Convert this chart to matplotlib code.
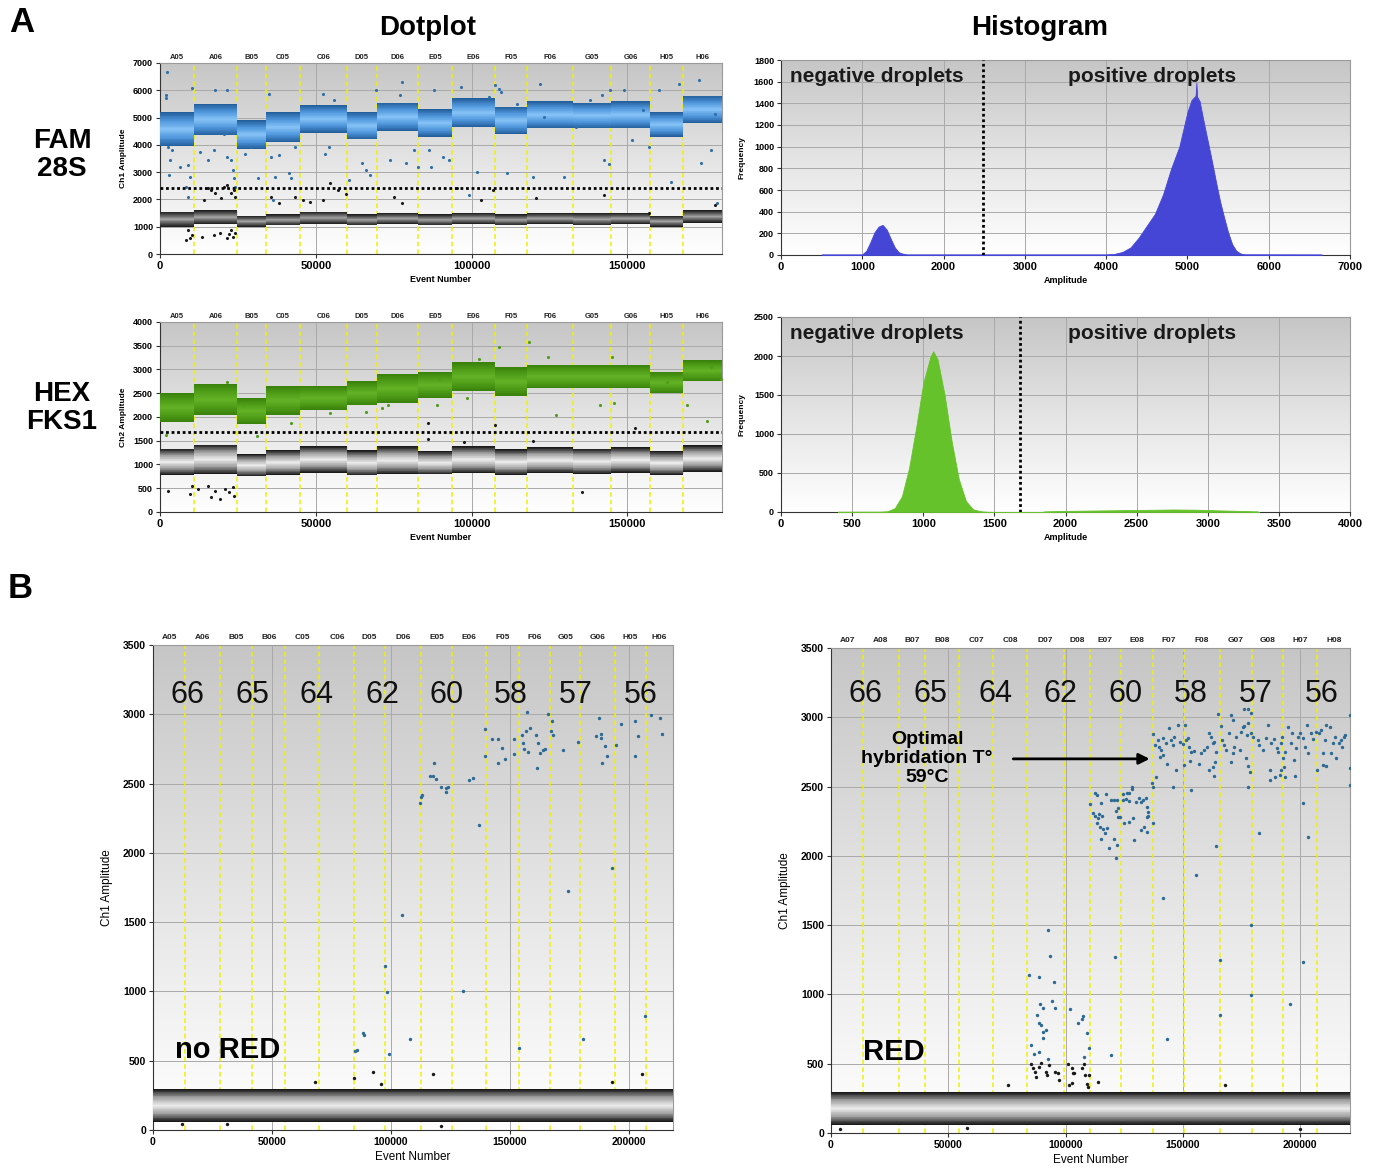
import numpy as np
import matplotlib
matplotlib.use('Agg')
import matplotlib.pyplot as plt
from matplotlib.colors import LinearSegmentedColormap
from matplotlib.transforms import blended_transform_factory

plt.rcParams['font.family'] = ['Liberation Sans', 'DejaVu Sans']

# ---------------- data: panel A, dotplots ----------------
TOP_WELLS = ['A05', 'A06', 'B05', 'C05', 'C06', 'D05', 'D06', 'E05',
             'E06', 'F05', 'F06', 'G05', 'G06', 'H05', 'H06']
TOP_EDGES = [0, 11069, 24682, 34097, 44911, 59924, 69593, 82952, 93766,
             107506, 117684, 132570, 144784, 157379, 167939, 180400]

# FAM (Ch1) cluster limits per well
FAM_POS_LO = [3950, 4350, 3850, 4100, 4450, 4200, 4500, 4300, 4650, 4400, 4600, 4600, 4600, 4300, 4800]
FAM_POS_HI = [5200, 5500, 4900, 5200, 5450, 5200, 5550, 5300, 5700, 5400, 5600, 5550, 5600, 5200, 5800]
FAM_NEG_LO = [1000, 1100, 1000, 1050, 1100, 1050, 1100, 1050, 1100, 1050, 1100, 1050, 1100, 1000, 1150]
FAM_NEG_HI = [1550, 1600, 1400, 1450, 1550, 1450, 1500, 1450, 1500, 1450, 1500, 1500, 1500, 1400, 1600]
FAM_THRESHOLD = 2430
FAM_RAIN_X = [2300, 1900, 1900, 10200, 2500, 3200, 3800, 6400, 2800, 8900, 9500, 8300, 8900, 12700,
              15300, 17200, 17800, 20400, 21600, 21600, 22900, 23500, 23900, 24200, 29300, 27300,
              31500, 35000, 35600, 36900, 36300, 38200, 41300, 42200, 43200, 52900, 52200, 54100,
              55900, 60800, 64900, 66200, 67400, 69300, 73800, 77600, 77000, 78900, 81400, 82700,
              86200, 87100, 87800, 90900, 92800, 96700, 99200, 101800, 105600, 107500, 108800,
              109400, 111300, 114500, 119600, 121900, 123400, 129700, 133600, 138000, 141800,
              142500, 144000, 144400, 148800, 151400, 155200, 157100, 160300, 164100, 166600,
              172900, 173500, 176800, 178700, 178100]
FAM_RAIN_Y = [6659, 5841, 5719, 6085, 3927, 3439, 3805, 3195, 2890, 3256, 2829, 2463, 2098, 3744,
              3439, 3805, 6000, 4415, 6000, 3561, 3439, 3073, 2768, 2463, 3927, 3683,
              2793, 5878, 3561, 2829, 1976, 3646, 2951, 2768, 3927, 3658, 5878, 3927,
              5634, 2707, 3317, 3073, 2890, 6024, 3439, 6305, 5817, 3317, 3805, 3195,
              3805, 3195, 6000, 3561, 3439, 6122, 2159, 3012, 5756, 6183, 6061,
              5939, 2951, 5512, 2829, 6220, 5024, 2829, 4659, 5634, 5817,
              3439, 3293, 6024, 6000, 4171, 5268, 3927, 6000, 2646, 6244,
              6390, 3317, 3805, 1854, 5146]
FAM_LOW_X = [16500, 17800, 19700, 20400, 21600, 22900, 23900, 24200, 15300, 14000, 8900, 10200,
             13400, 17200, 19100, 21400, 22300, 22900, 23500, 24200, 8300, 9500, 35600, 38200,
             43200, 45800, 48300, 52200, 54700, 57200, 59800, 75000, 77600, 95400, 103000,
             106800, 120800, 142500, 157100, 178100]
FAM_LOW_Y = [2341, 2220, 2037, 2463, 2524, 2220, 2341, 2098, 2402, 1976, 878, 695,
             634, 695, 780, 573, 732, 878, 634, 756, 500, 573, 2098, 1854,
             2098, 1976, 1915, 1976, 2585, 2341, 2195, 2098, 1854, 2402, 1976,
             2341, 2037, 2146, 1488, 1793]

# HEX (Ch2) cluster limits per well
HEX_POS_LO = [1900, 2050, 1850, 2050, 2150, 2250, 2300, 2400, 2550, 2450, 2600, 2600, 2600, 2500, 2750]
HEX_POS_HI = [2500, 2700, 2400, 2650, 2650, 2750, 2900, 2950, 3150, 3050, 3100, 3100, 3100, 2950, 3200]
HEX_NEG_LO = [780, 800, 750, 780, 830, 770, 800, 790, 820, 780, 820, 800, 830, 780, 850]
HEX_NEG_HI = [1330, 1420, 1220, 1300, 1380, 1300, 1380, 1280, 1380, 1320, 1360, 1330, 1360, 1280, 1400]
HEX_THRESHOLD = 1690
HEX_RAIN_X = [1900, 21600, 26700, 31200, 42000, 54700, 66100, 71200, 73100, 89000, 89700, 98600,
              102400, 108800, 118300, 124700, 127200, 141200, 145000, 145600, 162800, 169200,
              175500, 176800, 180000]
HEX_RAIN_Y = [1629, 2738, 2253, 1594, 1872, 2080, 2114, 2184, 2253, 2253, 2807, 2392,
              3223, 3466, 3570, 3258, 2045, 2253, 3258, 2288, 2738, 2253,
              1906, 3050, 2807]
HEX_LOW_X = [2500, 9500, 10200, 12100, 15300, 16500, 17800, 19100, 21000, 22300, 23500, 23900,
             85900, 85900, 107500, 135500, 152600, 119600, 97700]
HEX_LOW_Y = [451, 380, 555, 485, 555, 312, 451, 277, 485, 416, 520, 347,
             1872, 1539, 1837, 416, 1768, 1490, 1470]

# ---------------- data: panel A, histograms ----------------
FAM_HIST_AMP = [500, 1000, 1050, 1100, 1150, 1200, 1250, 1300, 1350, 1400, 1450, 1500, 1550,
                4000, 4100, 4200, 4300, 4400, 4500, 4600, 4700, 4800, 4900, 5000, 5050, 5100,
                5110, 5120, 5150, 5200, 5250, 5300, 5350, 5400, 5450, 5500, 5550, 5600, 5650,
                5700, 6650]
FAM_HIST_FREQ = [6, 6, 40, 120, 210, 262, 278, 235, 150, 70, 25, 12, 6,
                 6, 10, 28, 70, 160, 270, 380, 560, 800, 1000, 1320, 1430, 1470,
                 1590, 1460, 1420, 1230, 1050, 870, 680, 500, 350, 210, 100, 40, 15,
                 7, 6]
HEX_HIST_AMP = [400, 700, 750, 800, 850, 900, 950, 1000, 1050, 1070, 1100, 1150, 1200, 1250,
                1300, 1350, 1400, 1450, 1500, 1840, 1850, 2000, 2250, 2500, 2750, 2900,
                3100, 3350, 3360]
HEX_HIST_FREQ = [4, 5, 10, 50, 200, 560, 1080, 1650, 1990, 2060, 1960, 1500, 900, 420,
                 140, 35, 10, 3, 0, 0, 8, 14, 20, 26, 32, 30,
                 20, 8, 0]
FAM_HIST_CUT = 2480
HEX_HIST_CUT = 1677

# ---------------- data: panel B ----------------
BL_WELLS = ['A05', 'A06', 'B05', 'B06', 'C05', 'C06', 'D05', 'D06',
            'E05', 'E06', 'F05', 'F06', 'G05', 'G06', 'H05', 'H06']
BL_EDGES = [0, 13487, 28277, 41765, 55588, 69916, 84664, 97395, 112815, 125504,
            140126, 153824, 166849, 179538, 194160, 207059, 218500]
BR_WELLS = ['A07', 'A08', 'B07', 'B08', 'C07', 'C08', 'D07', 'D08',
            'E07', 'E08', 'F07', 'F08', 'G07', 'G08', 'H07', 'H08']
BR_EDGES = [0, 13692, 28850, 40260, 54440, 69110, 83455, 99430, 110350, 123390,
            137245, 150285, 165770, 179300, 192665, 207335, 221190]
TEMPS = ['66', '65', '64', '62', '60', '58', '57', '56']
NEG_LO = 60
NEG_HI = 295

BL_POS_X = [84900, 85700, 88100, 88500, 97500, 98200, 99000, 104500, 107900,
            112200, 112500, 112900, 116400, 117500, 118100, 118800, 121000, 123000, 124100,
            123000, 130100, 132800, 134300, 136900,
            139500, 139600, 142400, 145000, 144800, 146500, 147900, 151600, 151600, 153800,
            155100, 155600, 155900, 156600, 157200, 157600, 158400,
            160800, 161200, 161800, 162500, 163900, 164700, 166100, 167400, 167700, 168000,
            172300, 174500, 178700,
            180700, 186100, 187400, 188100, 188100, 188800, 189800, 190800, 192900, 194400,
            196500, 202400, 202400, 203700, 206700, 209300, 212900, 213900]
BL_POS_Y = [570, 577, 697, 685, 1183, 998, 548, 1551, 659,
            2359, 2405, 2417, 2554, 2554, 2648, 2532, 2477, 2470, 2475,
            2437, 1003, 2527, 2542, 2200,
            2891, 2700, 2819, 2819, 2650, 2754, 2674, 2823, 2710, 592,
            2848, 2790, 2751, 2881, 3018, 2727, 2900,
            2848, 2610, 2795, 2718, 2744, 2749, 3001, 2881, 2953, 2848,
            2741, 1724, 2803,
            659, 2845, 2975, 2855, 2831, 2648, 2768, 2700, 1888, 2776,
            2929, 2949, 2696, 2845, 823, 2992, 2975, 2860]
BL_LOW_X = [84500, 92600, 117800, 205300, 68000, 96000, 193000, 12000, 31000, 121000]
BL_LOW_Y = [373, 421, 406, 402, 350, 335, 345, 40, 45, 30]

BR_POS_X = [112500, 113200, 110400, 115000, 117200, 111800, 112700, 113800, 114400, 115700,
            113500, 114800, 116100, 116800, 117500, 115000, 118400, 121700, 120400, 121400,
            119200, 120400, 121800, 122500, 121400, 122400, 123300, 124400, 126100, 126900,
            124400, 125700, 127000, 128100, 128200, 124900, 127200, 128500, 129200, 129900,
            131300, 132100, 133000, 134200, 134500, 134900, 134500, 134900, 132100, 133500,
            134500, 137300,
            136700, 137100, 138600, 137100, 138100, 139200, 139900, 140600, 141300, 140300,
            141600, 142700, 143900, 144900, 145600, 146300, 143100, 147000, 145900, 148000,
            150900, 148800, 149900, 151300, 152300, 152700, 153400, 154600, 150600, 153100,
            153400, 141700, 156700, 157700, 159100, 160200, 161200, 161900, 162900, 163400,
            164100, 161200, 162700, 163400, 163800, 165100, 166200, 164100, 155500, 166600,
            167700, 168400, 169800, 170500, 171200, 171900, 172700, 170500, 171200, 174100,
            174800, 175500, 176200, 177200, 177900, 178800, 179800, 176200, 177900, 178800,
            176900, 177900, 178400, 177600, 182600, 181900, 182600, 184100, 185500, 186200,
            186900, 187600, 189000, 190200, 190700, 191600, 192200, 187300, 189300, 191200,
            191900, 193000, 193300, 192600, 193600, 194700, 195900, 196400, 197300, 198300,
            199000, 200000, 201100, 202100, 203000, 203500, 204700, 205600, 206800, 207300,
            207800, 208700, 209700, 210400, 211100, 212500, 213200, 214000, 214700, 215400,
            216400, 217200, 217800, 218700, 219200, 221100, 221100, 221100, 209700, 211100,
            201100, 203300, 197600,
            92300, 93300, 84200, 88600, 95000, 88900, 90200, 94200, 95400, 87600,
            88600, 89400, 90500, 91700, 90500, 85300, 86600, 88600, 92600, 101700,
            105400, 107000, 107600, 109300, 110100, 107700, 121100, 119200, 143000, 165900,
            165900, 179000, 179000, 201100, 195600]
BR_POS_Y = [2451, 2439, 2374, 2379, 2446, 2311, 2287, 2275, 2300, 2287,
            2235, 2210, 2191, 2163, 2201, 2121, 2054, 2078, 2121, 1982,
            2403, 2403, 2403, 2343, 2326, 2279, 2283, 2446, 2451, 2451,
            2403, 2413, 2399, 2499, 2485, 2239, 2247, 2271, 2114, 2391,
            2415, 2391, 2403, 2415, 2350, 2319, 2278, 2287, 2186, 2210,
            2170, 2239,
            2523, 2499, 2571, 2877, 2800, 2836, 2788, 2764, 2728, 2716,
            2848, 2812, 2925, 2836, 2800, 2860, 2662, 2619, 2499, 2944,
            2944, 2824, 2807, 2836, 2852, 2788, 2752, 2759, 2655, 2684,
            2475, 1694, 2662, 2740, 2764, 2783, 2884, 2860, 2812, 2824,
            2752, 2619, 2643, 2576, 2679, 3021, 2937, 2071, 1860, 2836,
            2800, 2764, 2884, 2679, 2740, 2788, 2860, 3016, 2980, 2764,
            2896, 2932, 2937, 2872, 2956, 2884, 2860, 3057, 3057, 3028,
            2704, 2648, 2607, 2494, 2167, 2836, 2800, 2764, 2848, 2944,
            2619, 2812, 2841, 2776, 2752, 2812, 2860, 2547, 2571, 2583,
            2619, 2643, 2567, 2704, 2752, 2932, 2812, 2884, 2692, 2776,
            2860, 2884, 2848, 2788, 2944, 2740, 2884, 2841, 2896, 2619,
            2884, 2908, 2740, 2836, 2944, 2932, 2740, 2812, 2860, 2704,
            2812, 2836, 2783, 2860, 2872, 3016, 2632, 2511, 2655, 2648,
            2379, 2138, 2576,
            1463, 1277, 1140, 1123, 1092, 933, 900, 950, 900, 854,
            796, 779, 727, 743, 685, 633, 568, 584, 532, 895,
            791, 820, 846, 719, 611, 546, 1272, 563, 676, 1248,
            851, 1501, 996, 1236, 929]
BR_LOW_X = [85300, 85900, 87000, 88600, 89600, 91700, 92900, 91900, 95400, 96700, 97100, 87200,
            101200, 102600, 103000, 103600, 107100, 108000, 108100, 110100, 109000, 109500,
            101400, 102900, 114000, 75300, 168100, 4000, 58000, 200000]
BR_LOW_Y = [498, 467, 442, 474, 503, 442, 491, 419, 442, 431, 383, 407,
            498, 467, 435, 431, 467, 498, 421, 421, 351, 330,
            344, 359, 368, 349, 346, 30, 35, 30]

# ---------------- styling helpers ----------------
bg_cmap = LinearSegmentedColormap.from_list('bg', ['#c6c6c6', '#e4e4e4', '#ffffff'])
fam_pos_cmap = LinearSegmentedColormap.from_list('fp', ['#86c2f6', '#4f97dd', '#245f9c'])
fam_neg_cmap = LinearSegmentedColormap.from_list('fn', ['#a4a4a4', '#5c5c5c', '#1e1e1e'])
hex_pos_cmap = LinearSegmentedColormap.from_list('hp', ['#63b226', '#4f9c18', '#3a820c'])
neg_cmap = LinearSegmentedColormap.from_list('nn', ['#eeeeee', '#a0a0a0', '#1a1a1a'])
N_STRIPS = 40
strip_shade = np.abs(np.linspace(-1, 1, N_STRIPS))[:, None]

YELLOW = '#f2f000'
GRIDC = '#a9a9a9'


def base(ax):
    ax.imshow(np.linspace(0, 1, 256)[:, None], extent=[0, 1, 0, 1], transform=ax.transAxes,
              cmap=bg_cmap, aspect='auto', zorder=0)
    ax.set_axisbelow(True)
    ax.grid(True, color=GRIDC, lw=0.7)
    for s in ax.spines.values():
        s.set_color('#9a9a9a')
        s.set_linewidth(0.8)
    ax.spines['left'].set_color('#333333')
    ax.spines['bottom'].set_color('#333333')
    ax.tick_params(length=3, width=0.8, color='#333333', pad=2)


def band(ax, x0, x1, lo, hi, cmap):
    ys = np.linspace(lo, hi, N_STRIPS + 1)
    ax.pcolormesh([x0, x1], ys, strip_shade, cmap=cmap, vmin=0, vmax=1,
                  shading='flat', zorder=3)


def wells(ax, edges, names, fs):
    tr = blended_transform_factory(ax.transData, ax.transAxes)
    for e in edges[1:-1]:
        ax.axvline(e, color=YELLOW, lw=1.1, ls=(0, (3, 2)), zorder=2)
    for i, n in enumerate(names):
        ax.text((edges[i] + edges[i + 1]) / 2, 1.008, n, transform=tr, ha='center',
                va='bottom', fontsize=fs, fontweight='bold', color='#222222')


fig = plt.figure(figsize=(13.78, 11.71), dpi=100)
W, H = 1378, 1171


def axes_px(l, r, t, b):
    return fig.add_axes([l / W, 1 - b / H, (r - l) / W, (b - t) / H])


# ---------------- FAM dotplot ----------------
ax = axes_px(160, 722, 63, 254)
base(ax)
wells(ax, TOP_EDGES, TOP_WELLS, 5.5)
for i in range(len(TOP_WELLS)):
    band(ax, TOP_EDGES[i], TOP_EDGES[i + 1], FAM_POS_LO[i], FAM_POS_HI[i], fam_pos_cmap)
    band(ax, TOP_EDGES[i], TOP_EDGES[i + 1], FAM_NEG_LO[i], FAM_NEG_HI[i], fam_neg_cmap)
ax.scatter(FAM_RAIN_X, FAM_RAIN_Y, s=5, color='#2f6fa8', lw=0, zorder=4)
ax.scatter(FAM_LOW_X, FAM_LOW_Y, s=5, color='#1a1a1a', lw=0, zorder=4)
ax.axhline(FAM_THRESHOLD, color='black', ls=(0, (1, 1)), lw=2, zorder=5)
ax.set_xlim(0, TOP_EDGES[-1])
ax.set_ylim(0, 7000)
ax.set_yticks(range(0, 7001, 1000))
ax.set_xticks(range(0, 150001, 50000))
ax.tick_params(axis='y', labelsize=6.5)
ax.tick_params(axis='x', labelsize=8)
for lb in ax.get_xticklabels() + ax.get_yticklabels():
    lb.set_fontweight('bold')
ax.set_ylabel('Ch1 Amplitude', fontsize=6, fontweight='bold', labelpad=4)
ax.set_xlabel('Event Number', fontsize=6.5, fontweight='bold', labelpad=3)

# ---------------- HEX dotplot ----------------
ax = axes_px(160, 722, 322, 512)
base(ax)
wells(ax, TOP_EDGES, TOP_WELLS, 5.5)
for i in range(len(TOP_WELLS)):
    band(ax, TOP_EDGES[i], TOP_EDGES[i + 1], HEX_POS_LO[i], HEX_POS_HI[i], hex_pos_cmap)
    band(ax, TOP_EDGES[i], TOP_EDGES[i + 1], HEX_NEG_LO[i], HEX_NEG_HI[i], neg_cmap)
ax.scatter(HEX_RAIN_X, HEX_RAIN_Y, s=5, color='#4f9c18', lw=0, zorder=4)
ax.scatter(HEX_LOW_X, HEX_LOW_Y, s=5, color='#1a1a1a', lw=0, zorder=4)
ax.axhline(HEX_THRESHOLD, color='black', ls=(0, (1, 1)), lw=2, zorder=5)
ax.set_xlim(0, TOP_EDGES[-1])
ax.set_ylim(0, 4000)
ax.set_yticks(range(0, 4001, 500))
ax.set_xticks(range(0, 150001, 50000))
ax.tick_params(axis='y', labelsize=6.5)
ax.tick_params(axis='x', labelsize=8)
for lb in ax.get_xticklabels() + ax.get_yticklabels():
    lb.set_fontweight('bold')
ax.set_ylabel('Ch2 Amplitude', fontsize=6, fontweight='bold', labelpad=4)
ax.set_xlabel('Event Number', fontsize=6.5, fontweight='bold', labelpad=3)

# ---------------- histograms ----------------
hist_specs = [
    ((781, 1350, 60, 255), FAM_HIST_AMP, FAM_HIST_FREQ, FAM_HIST_CUT, '#4646d6', 7000, 1000, 1800, 200),
    ((781, 1350, 317, 512), HEX_HIST_AMP, HEX_HIST_FREQ, HEX_HIST_CUT, '#66c22a', 4000, 500, 2500, 500),
]
for box, amp, freq, cut, col, xmax, xstep, ymax, ystep in hist_specs:
    ax = axes_px(*box)
    base(ax)
    ax.fill_between(amp, 0, freq, color=col, lw=0.6, edgecolor=col, zorder=3)
    ax.axvline(cut, color='black', ls=(0, (1, 1)), lw=2, zorder=5)
    ax.set_xlim(0, xmax)
    ax.set_ylim(0, ymax)
    ax.set_xticks(range(0, xmax + 1, xstep))
    ax.set_yticks(range(0, ymax + 1, ystep))
    ax.tick_params(axis='y', labelsize=6.5)
    ax.tick_params(axis='x', labelsize=8)
    for lb in ax.get_xticklabels() + ax.get_yticklabels():
        lb.set_fontweight('bold')
    ax.set_ylabel('Frequency', fontsize=6, fontweight='bold', labelpad=6)
    ax.set_xlabel('Amplitude', fontsize=6.5, fontweight='bold', labelpad=3)
    ax.text(0.016, 0.915, 'negative droplets', transform=ax.transAxes, fontsize=15,
            fontweight='bold', va='center', ha='left', color='#1a1a1a', zorder=6)
    ax.text(0.652, 0.915, 'positive droplets', transform=ax.transAxes, fontsize=15,
            fontweight='bold', va='center', ha='center', color='#1a1a1a', zorder=6)

# ---------------- panel B ----------------
b_specs = [
    ((153, 673, 645, 1130), BL_EDGES, BL_WELLS, BL_POS_X, BL_POS_Y, BL_LOW_X, BL_LOW_Y,
     [14290, 41600, 68900, 96200, 123500, 150400, 177700, 205000], 3140),
    ((831, 1350, 648, 1133), BR_EDGES, BR_WELLS, BR_POS_X, BR_POS_Y, BR_LOW_X, BR_LOW_Y,
     [14530, 42300, 70085, 97860, 125640, 153420, 181200, 208970], 3170),
]
b_axes = []
for box, edges, names, px, py, lx, ly, tx, ty in b_specs:
    ax = axes_px(*box)
    base(ax)
    wells(ax, edges, names, 6)
    for i in range(len(names)):
        band(ax, edges[i], edges[i + 1], NEG_LO, NEG_HI, neg_cmap)
    ax.scatter(px, py, s=6, color='#2d6a93', lw=0, zorder=4)
    ax.scatter(lx, ly, s=6, color='#1a1a1a', lw=0, zorder=4)
    for x, t in zip(tx, TEMPS):
        ax.text(x, ty, t, fontsize=22, ha='center', va='center', color='#111111', zorder=6)
    ax.set_xlim(0, edges[-1])
    ax.set_ylim(0, 3500)
    ax.set_xticks(range(0, 200001, 50000))
    ax.set_yticks(range(0, 3501, 500))
    ax.tick_params(labelsize=7.5)
    for lb in ax.get_xticklabels() + ax.get_yticklabels():
        lb.set_fontweight('bold')
    ax.set_ylabel('Ch1 Amplitude', fontsize=8.5, labelpad=7)
    ax.set_xlabel('Event Number', fontsize=8.5, labelpad=3)
    b_axes.append(ax)

b_axes[0].text(9200, 577, 'no RED', fontsize=21, fontweight='bold', ha='left', va='center', zorder=6)
b_axes[1].text(13700, 584, 'RED', fontsize=21, fontweight='bold', ha='left', va='center', zorder=6)
b_axes[1].text(41000, 2700, 'Optimal\nhybridation T°\n59°C', fontsize=14, fontweight='bold',
               ha='center', va='center', linespacing=1.15, zorder=6)
b_axes[1].annotate('', xy=(137000, 2700), xytext=(76500, 2700),
                   arrowprops=dict(arrowstyle='-|>', lw=2, color='black', mutation_scale=16),
                   zorder=6)

# ---------------- figure labels ----------------
fig.text(22 / W, 1 - 22 / H, 'A', fontsize=25, fontweight='bold', ha='center', va='center')
fig.text(20 / W, 1 - 588 / H, 'B', fontsize=25, fontweight='bold', ha='center', va='center')
fig.text(428 / W, 1 - 28 / H, 'Dotplot', fontsize=20, fontweight='bold', ha='center', va='center')
fig.text(1040 / W, 1 - 28 / H, 'Histogram', fontsize=20, fontweight='bold', ha='center', va='center')
fig.text(62 / W, 1 - 155 / H, 'FAM\n28S', fontsize=20, fontweight='bold', ha='center', va='center',
         linespacing=1.1)
fig.text(62 / W, 1 - 408 / H, 'HEX\nFKS1', fontsize=20, fontweight='bold', ha='center', va='center',
         linespacing=1.1)

fig.savefig('out.png', dpi=100, facecolor='white')
